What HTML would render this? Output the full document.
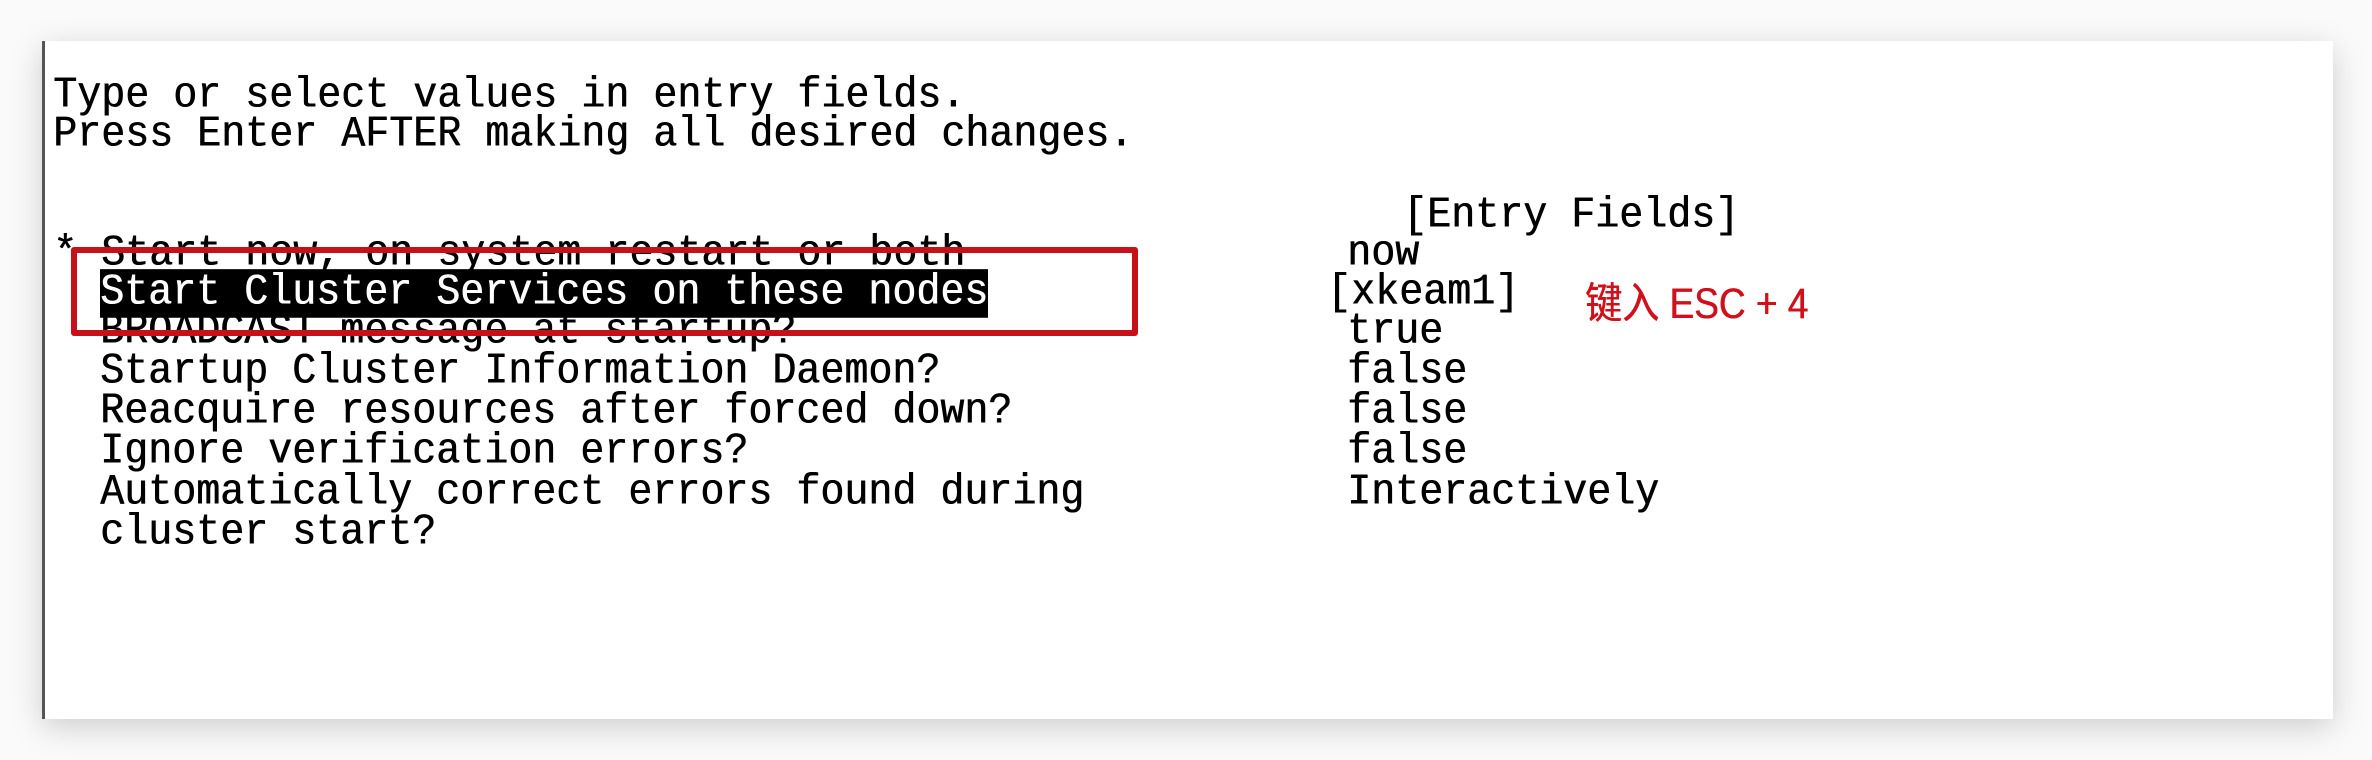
<!DOCTYPE html>
<html><head><meta charset="utf-8"><style>
html,body{margin:0;padding:0;background:#fff;}
body{width:2372px;height:760px;position:relative;overflow:hidden;background:#fafafa;}
#panel{position:absolute;left:42px;top:41px;width:2288px;height:678px;background:#fff;box-shadow:0 8px 30px rgba(0,0,0,0.18);border-left:3px solid #555;}
.t{position:absolute;font-family:"Liberation Mono",monospace;font-size:40px;line-height:40px;color:#000;white-space:pre;text-shadow:0.6px 0 0 #000;transform:scaleY(1.08);transform-origin:0 50%;}
.hl{background:#000;color:#fff;text-shadow:0.6px 0 0 #fff;}
#box{position:absolute;left:71px;top:247px;width:1055px;height:77px;border:6px solid #c8101a;border-radius:3px;}
#red{position:absolute;left:1585px;top:283px;font-family:"Liberation Sans","Noto Sans CJK SC",sans-serif;font-size:37px;line-height:42px;color:#d0101a;white-space:pre;text-shadow:0.6px 0 0 #d0101a;transform:scaleY(1.15);transform-origin:0 50%;}
</style></head><body>
<div id="panel"></div>
<div class="t" style="left:53px;top:77px">Type or select values in entry fields.</div>
<div class="t" style="left:53px;top:116px">Press Enter AFTER making all desired changes.</div>
<div class="t" style="left:1403px;top:197px">[Entry Fields]</div>
<div class="t" style="left:53px;top:235px">* Start now, on system restart or both</div>
<div class="t" style="left:1347px;top:235px">now</div>
<div class="t" style="left:100px;top:274px"><span class="hl">Start Cluster Services on these nodes</span></div>
<div class="t" style="left:1327px;top:274px">[xkeam1]</div>
<div class="t" style="left:100px;top:313px">BROADCAST message at startup?</div>
<div class="t" style="left:1347px;top:313px">true</div>
<div class="t" style="left:100px;top:353px">Startup Cluster Information Daemon?</div>
<div class="t" style="left:1347px;top:353px">false</div>
<div class="t" style="left:100px;top:393px">Reacquire resources after forced down?</div>
<div class="t" style="left:1347px;top:393px">false</div>
<div class="t" style="left:100px;top:433px">Ignore verification errors?</div>
<div class="t" style="left:1347px;top:433px">false</div>
<div class="t" style="left:100px;top:474px">Automatically correct errors found during</div>
<div class="t" style="left:1347px;top:474px">Interactively</div>
<div class="t" style="left:100px;top:514px">cluster start?</div>
<div id="box"></div>
<div id="red">键入 ESC + 4</div>
</body></html>
